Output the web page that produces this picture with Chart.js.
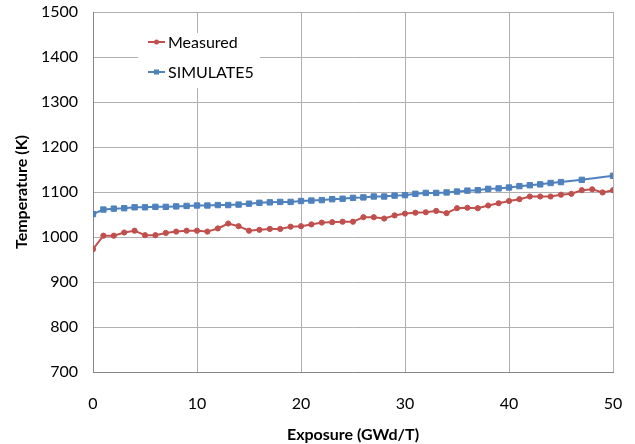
<!DOCTYPE html>
<html>
<head>
<meta charset="utf-8">
<style>
  html, body { margin: 0; padding: 0; background: #fff; }
  #wrap { width: 635px; height: 444px; }
</style>
<script src="https://cdn.jsdelivr.net/npm/chart.js@4/dist/chart.umd.min.js"></script>
</head>
<body>
<div id="wrap"><canvas id="myChart"></canvas></div>
<script>
// measured: every 1 GWd/T from 0 to 50
const measuredExposure = [0,1,2,3,4,5,6,7,8,9,10,11,12,13,14,15,16,17,18,19,20,21,22,23,24,25,26,27,28,29,30,31,32,33,34,35,36,37,38,39,40,41,42,43,44,45,46,47,48,49,50];
const measuredTemp = [973,1003,1003,1010,1014,1004,1004,1009,1012,1014,1014,1012,1019,1030,1024,1014,1016,1018,1018,1023,1024,1028,1032,1033,1034,1034,1044,1044,1041,1048,1052,1054,1055,1058,1053,1064,1065,1064,1070,1075,1080,1084,1090,1090,1090,1094,1096,1104,1106,1099,1104];

// SIMULATE5 skips 46, 48, 49
const simExposure = [0,1,2,3,4,5,6,7,8,9,10,11,12,13,14,15,16,17,18,19,20,21,22,23,24,25,26,27,28,29,30,31,32,33,34,35,36,37,38,39,40,41,42,43,44,45,47,50];
const simTemp = [1051,1061,1063,1064,1066,1066,1067,1067,1068,1069,1070,1070,1071,1071,1072,1074,1076,1077,1078,1078,1080,1081,1082,1084,1085,1087,1088,1090,1090,1092,1093,1096,1098,1098,1099,1101,1103,1104,1107,1108,1110,1113,1115,1117,1120,1122,1127,1136];

const xTicks = [0,10,20,30,40,50];
const yTicks = [700,800,900,1000,1100,1200,1300,1400,1500];

const toPoints = (xs, ys) => xs.map((x, i) => ({ x: x, y: ys[i] }));

const FONT = 'Lato, "Open Sans", sans-serif';

// legend drawn inside the plot, on a white box
const innerLegend = {
  id: 'innerLegend',
  afterDatasetsDraw(chart) {
    const ctx = chart.ctx;
    const area = chart.chartArea;
    const bx = area.left + 45, by = area.top + 21;
    ctx.save();
    ctx.fillStyle = '#fff';
    ctx.fillRect(bx, by, 122, 55);
    ctx.font = '16px ' + FONT;
    ctx.textBaseline = 'middle';
    chart.data.datasets.forEach((ds, i) => {
      const y = by + 9 + i * 30;
      const x0 = bx + 10;
      ctx.strokeStyle = ds.borderColor;
      ctx.lineWidth = 2;
      ctx.beginPath();
      ctx.moveTo(x0, y);
      ctx.lineTo(x0 + 17, y);
      ctx.stroke();
      ctx.fillStyle = ds.borderColor;
      if (ds.pointStyle === 'rect') {
        ctx.fillRect(x0 + 6, y - 2.5, 5, 5);
      } else {
        ctx.beginPath();
        ctx.arc(x0 + 8.5, y, 2.5, 0, Math.PI * 2);
        ctx.fill();
      }
      ctx.fillStyle = '#000';
      ctx.fillText(ds.label, x0 + 20, y + 1);
    });
    ctx.restore();
  }
};

const config = {
  type: 'line',
  data: {
    datasets: [{
      label: 'Measured',
      data: toPoints(measuredExposure, measuredTemp),
      borderColor: '#C0504D',
      backgroundColor: '#C0504D',
      borderWidth: 2,
      pointStyle: 'circle',
      pointRadius: 2.6,
      pointBorderWidth: 1,
      tension: 0
    }, {
      label: 'SIMULATE5',
      data: toPoints(simExposure, simTemp),
      borderColor: '#4F81BD',
      backgroundColor: '#4F81BD',
      borderWidth: 2,
      pointStyle: 'rect',
      pointRadius: 3.8,
      pointBorderWidth: 1,
      tension: 0
    }]
  },
  options: {
    responsive: true,
    maintainAspectRatio: false,
    animation: false,
    layout: { padding: { left: 12, right: 22, top: 12, bottom: 0 } },
    plugins: {
      legend: { display: false },
      tooltip: { enabled: false }
    },
    scales: {
      x: {
        type: 'linear',
        min: 0,
        max: 50,
        afterBuildTicks: (s) => { s.ticks = xTicks.map(v => ({ value: v })); },
        afterFit: (s) => { s.height = 72; s.paddingLeft = 0; s.paddingRight = 0; },
        grid: { color: '#b0b0b0', drawTicks: false },
        border: { color: '#868686' },
        ticks: { color: '#000', padding: 22, font: { family: FONT, size: 16 } },
        title: {
          display: true,
          text: 'Exposure (GWd/T)',
          color: '#000',
          padding: 0,
          font: { family: FONT, size: 16, weight: 'bold' }
        }
      },
      y: {
        min: 700,
        max: 1500,
        afterBuildTicks: (s) => { s.ticks = yTicks.map(v => ({ value: v })); },
        afterFit: (s) => { s.width = 81; s.paddingTop = 0; s.paddingBottom = 0; },
        grid: { color: '#b0b0b0', drawTicks: false },
        border: { color: '#868686' },
        ticks: {
          color: '#000',
          padding: 15,
          font: { family: FONT, size: 16 },
          callback: (v) => String(v)
        },
        title: {
          display: true,
          text: 'Temperature (K)',
          color: '#000',
          padding: 0,
          font: { family: FONT, size: 16, weight: 'bold' }
        }
      }
    }
  },
  plugins: [innerLegend]
};

new Chart(document.getElementById('myChart').getContext('2d'), config);
</script>
</body>
</html>
